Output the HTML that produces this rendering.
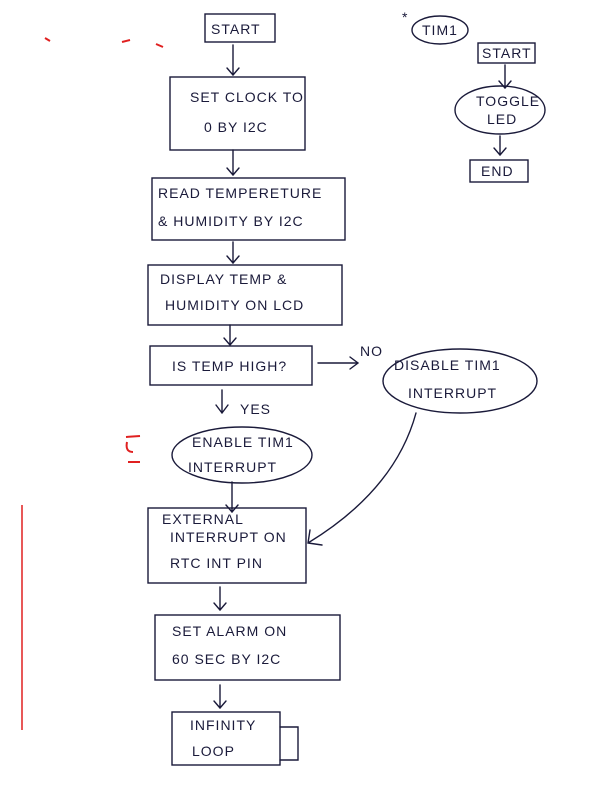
<!DOCTYPE html>
<html><head><meta charset="utf-8"><style>
html,body{margin:0;padding:0;background:#fff;}
svg{display:block;}
text{font-family:"Liberation Sans",sans-serif;fill:#1a1a3a;font-size:14px;letter-spacing:1px;}
</style></head><body>
<svg width="592" height="812" viewBox="0 0 592 812" xmlns="http://www.w3.org/2000/svg">
<g fill="none" stroke="#1a1a3a" stroke-width="1.4" stroke-linecap="round">
<rect x="205" y="14" width="70" height="28"/>
<rect x="170" y="77" width="135" height="73"/>
<rect x="152" y="178" width="193" height="62"/>
<rect x="148" y="265" width="194" height="60"/>
<rect x="150" y="346" width="162" height="39"/>
<rect x="148" y="508" width="158" height="75"/>
<rect x="155" y="615" width="185" height="65"/>
<rect x="172" y="712" width="108" height="53"/>
<path d="M280 727 H298 V760 H280"/>
<ellipse cx="460" cy="381" rx="77" ry="32"/>
<ellipse cx="242" cy="455" rx="70" ry="28"/>
<path d="M233 45 V75 M227 68 L233 75 L239 68"/>
<path d="M233 150 V175 M227 168 L233 175 L239 168"/>
<path d="M233 242 V263 M227 256 L233 263 L239 256"/>
<path d="M230 325 V345 M224 338 L230 345 L236 338"/>
<path d="M318 363 H358 M350 357 L358 363 L350 369"/>
<path d="M222 390 V413 M216 405 L222 413 L228 405"/>
<path d="M232 482 V512 M226 505 L232 512 L238 505"/>
<path d="M416 413 Q395 490 308 543 M310 530 L308 543 L322 545"/>
<path d="M220 587 V610 M214 603 L220 610 L226 603"/>
<path d="M220 685 V708 M214 701 L220 708 L226 701"/>
<ellipse cx="440" cy="30" rx="28" ry="14"/>
<rect x="478" y="43" width="57" height="20"/>
<path d="M505 65 V88 M499 81 L505 88 L511 81"/>
<ellipse cx="500" cy="110" rx="45" ry="24"/>
<path d="M500 136 V155 M494 148 L500 155 L506 148"/>
<rect x="470" y="160" width="58" height="22"/>
</g>
<g>
<text x="211" y="34" font-size="13">START</text>
<text x="190" y="102" font-size="13">SET CLOCK TO</text>
<text x="204" y="132">0 BY I2C</text>
<text x="158" y="198" font-size="13">READ TEMPERETURE</text>
<text x="158" y="226" font-size="13">&amp; HUMIDITY BY I2C</text>
<text x="160" y="284" font-size="13">DISPLAY TEMP &amp;</text>
<text x="165" y="310" font-size="13">HUMIDITY ON LCD</text>
<text x="172" y="371">IS TEMP HIGH?</text>
<text x="360" y="356" font-size="12">NO</text>
<text x="394" y="370" font-size="13">DISABLE TIM1</text>
<text x="408" y="398" font-size="13">INTERRUPT</text>
<text x="240" y="414" font-size="13">YES</text>
<text x="192" y="447" font-size="13">ENABLE TIM1</text>
<text x="188" y="472" font-size="13">INTERRUPT</text>
<text x="162" y="524" font-size="13">EXTERNAL</text>
<text x="170" y="542" font-size="13">INTERRUPT ON</text>
<text x="170" y="568" font-size="13">RTC INT PIN</text>
<text x="172" y="636" font-size="13">SET ALARM ON</text>
<text x="172" y="664" font-size="13">60 SEC BY I2C</text>
<text x="190" y="730" font-size="12">INFINITY</text>
<text x="192" y="756" font-size="12">LOOP</text>
<text x="402" y="22" font-size="16">*</text>
<text x="422" y="35" font-size="12">TIM1</text>
<text x="482" y="58" font-size="11">START</text>
<text x="476" y="106" font-size="11">TOGGLE</text>
<text x="487" y="124" font-size="11">LED</text>
<text x="481" y="176" font-size="11">END</text>
</g>
<g stroke="#e02020" stroke-width="2" fill="none">
<path d="M45 38 L50 41"/><path d="M122 42 L130 40"/><path d="M156 44 L163 47"/>
<path d="M126 437 L140 436 M127 442 Q125 452 133 452 M128 462 L140 462"/>
<path d="M22 505 V730" stroke-width="1.5"/>
</g>
</svg>
</body></html>
